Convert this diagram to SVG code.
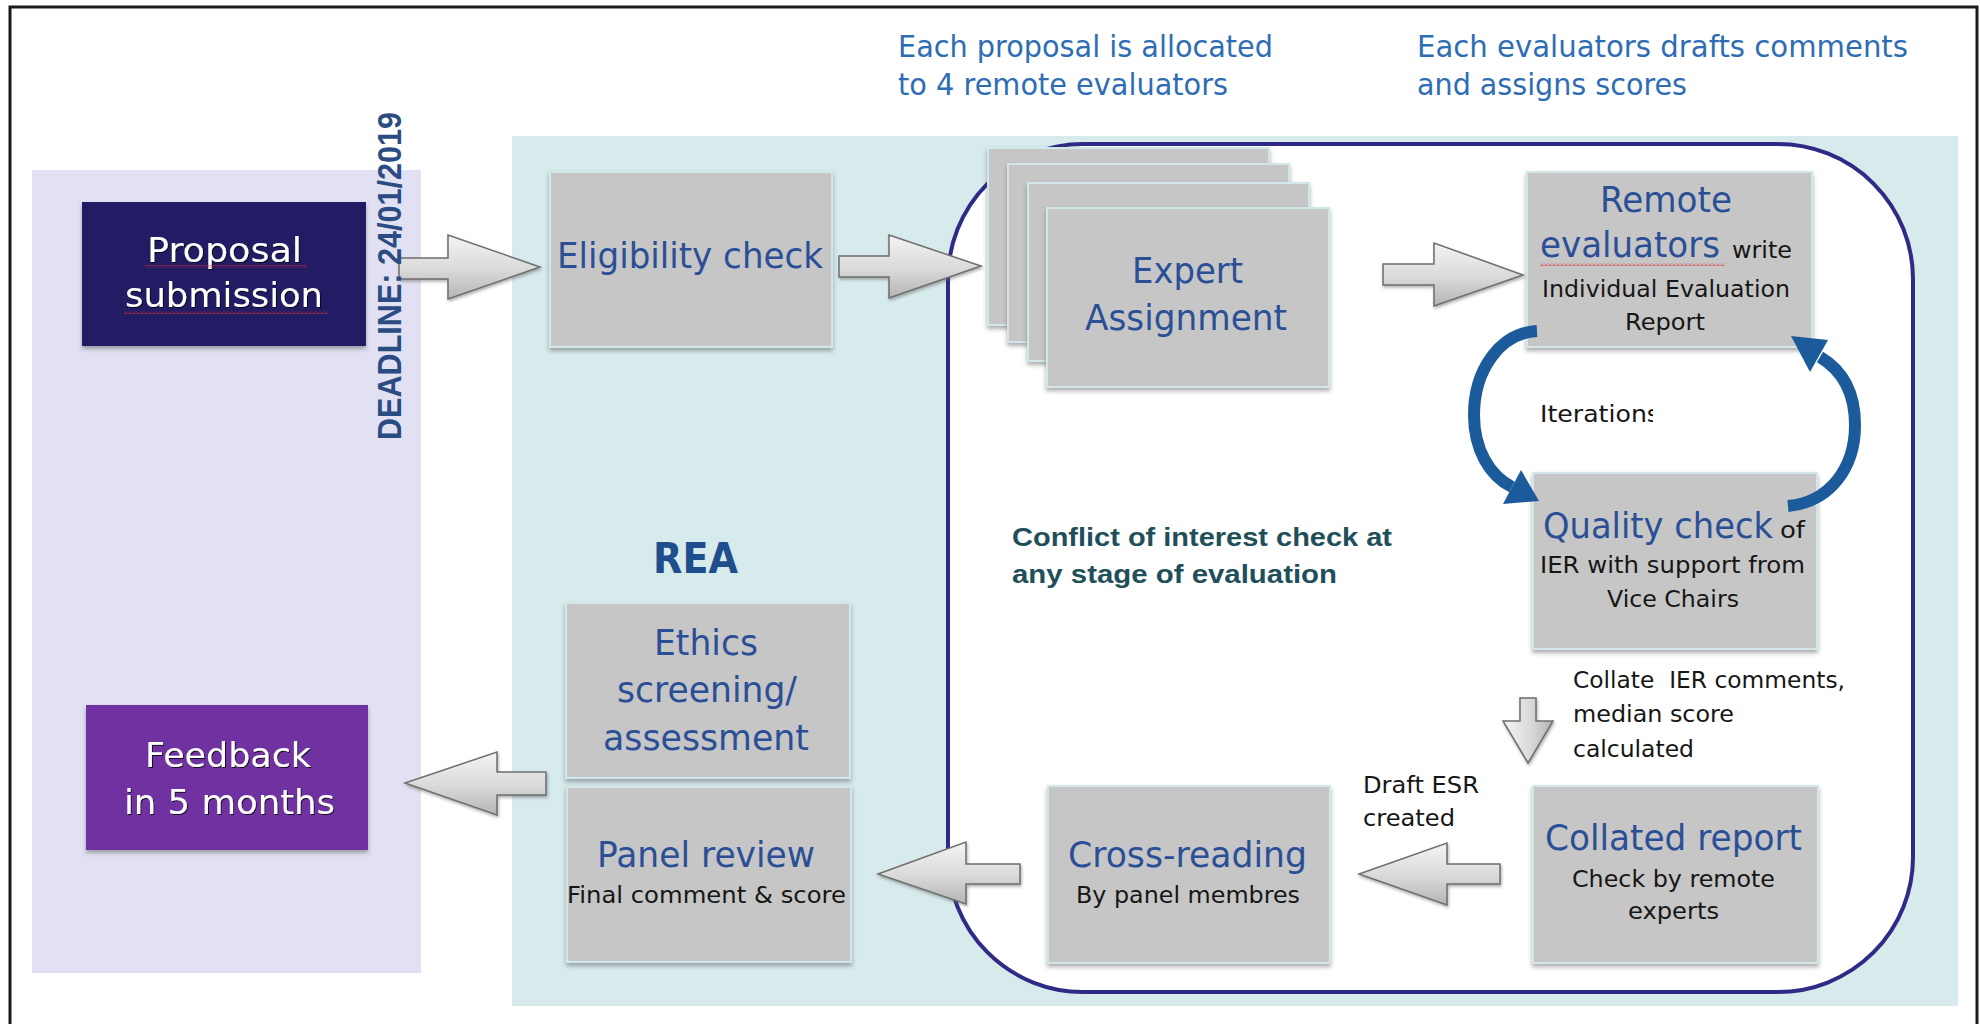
<svg xmlns="http://www.w3.org/2000/svg" width="1980" height="1024" viewBox="0 0 1980 1024">
<defs>
<style>
.t{font-family:"DejaVu Sans","Liberation Sans",sans-serif}
.title{font-size:35px;fill:#2B4F97}
.small{font-size:23px;fill:#161616}
.top{font-size:30px;fill:#2E6DB4}
.white{font-size:34px;fill:#ffffff;filter:url(#tsh)}
.box{fill:#C6C6C6;stroke:#D2E7EA;stroke-width:2;filter:url(#sh)}
.arrow{fill:url(#ag);stroke:#6E6E6E;stroke-width:1.5;stroke-linejoin:miter;filter:url(#ash)}
.curve{fill:none;stroke:#1B5B9C;stroke-width:12}
.curvehead{fill:#1B5B9C}
</style>
<linearGradient id="ag" x1="0" y1="0" x2="0" y2="1">
<stop offset="0" stop-color="#F4F4F4"/>
<stop offset="0.55" stop-color="#D9D9D9"/>
<stop offset="1" stop-color="#B4B4B4"/>
</linearGradient>
<linearGradient id="agv" x1="0" y1="0" x2="1" y2="0">
<stop offset="0" stop-color="#F4F4F4"/>
<stop offset="0.55" stop-color="#D9D9D9"/>
<stop offset="1" stop-color="#B4B4B4"/>
</linearGradient>
<filter id="sh" x="-5%" y="-5%" width="110%" height="115%">
<feDropShadow dx="0" dy="3" stdDeviation="2" flood-color="#4A4A4A" flood-opacity="0.45"/>
</filter>
<filter id="ash" x="-10%" y="-10%" width="120%" height="130%">
<feDropShadow dx="1" dy="2" stdDeviation="1.5" flood-color="#555" flood-opacity="0.45"/>
</filter>
<filter id="tsh" x="-5%" y="-10%" width="110%" height="130%">
<feDropShadow dx="1" dy="1" stdDeviation="0.6" flood-color="#000" flood-opacity="0.8"/>
</filter>
<pattern id="squig" width="4" height="3" patternUnits="userSpaceOnUse">
<path d="M0,2.5 L2,0.5 L4,2.5" fill="none" stroke="#E0282C" stroke-width="0.9"/>
</pattern>
<clipPath id="itclip"><rect x="1530" y="395" width="123" height="40"/></clipPath>
</defs>

<rect x="0" y="0" width="1980" height="1024" fill="#ffffff"/>
<rect x="10" y="7" width="1967" height="1040" fill="none" stroke="#1A1A1A" stroke-width="3"/>

<g id="backgrounds">
<rect x="32" y="170" width="389" height="803" fill="#E1E1F3"/>
<rect x="512" y="136" width="1446" height="870" fill="#D7EAEC"/>
<rect x="948" y="144" width="965" height="848" rx="135" ry="135" fill="#ffffff" stroke="#2E2A85" stroke-width="4"/>
</g>

<g id="captions">
<text class="t top" x="898" y="57" textLength="375" lengthAdjust="spacingAndGlyphs">Each proposal is allocated</text>
<text class="t top" x="898" y="95" textLength="330" lengthAdjust="spacingAndGlyphs">to 4 remote evaluators</text>
<text class="t top" x="1417" y="57" textLength="491" lengthAdjust="spacingAndGlyphs">Each evaluators drafts comments</text>
<text class="t top" x="1417" y="95" textLength="270" lengthAdjust="spacingAndGlyphs">and assigns scores</text>
<text x="653" y="573" font-family="DejaVu Sans, sans-serif" font-weight="bold" font-size="42" fill="#1F4E8C" textLength="85" lengthAdjust="spacingAndGlyphs">REA</text>
<text x="1012" y="546" font-family="Liberation Sans, Arial, sans-serif" font-weight="bold" font-size="26" fill="#1F4F5A" textLength="380" lengthAdjust="spacingAndGlyphs">Conflict of interest check at</text>
<text x="1012" y="583" font-family="Liberation Sans, Arial, sans-serif" font-weight="bold" font-size="26" fill="#1F4F5A" textLength="325" lengthAdjust="spacingAndGlyphs">any stage of evaluation</text>
<text class="t small" x="1540" y="422" clip-path="url(#itclip)" textLength="120" lengthAdjust="spacingAndGlyphs">Iterations</text>
<text class="t small" x="1573" y="688" textLength="272" lengthAdjust="spacingAndGlyphs">Collate&#160; IER comments,</text>
<text class="t small" x="1573" y="722" textLength="161" lengthAdjust="spacingAndGlyphs">median score</text>
<text class="t small" x="1573" y="757" textLength="121" lengthAdjust="spacingAndGlyphs">calculated</text>
<text class="t small" x="1363" y="793" textLength="116" lengthAdjust="spacingAndGlyphs">Draft ESR</text>
<text class="t small" x="1363" y="826" textLength="92" lengthAdjust="spacingAndGlyphs">created</text>
</g>

<g id="node-proposal">
<rect x="82" y="202" width="284" height="144" fill="#221F65" filter="url(#sh)"/>
<text class="t white" x="147" y="262" textLength="155" lengthAdjust="spacingAndGlyphs">Proposal</text>
<text class="t white" x="125" y="307" textLength="198" lengthAdjust="spacingAndGlyphs">submission</text>
<rect x="145" y="265" width="162" height="3" fill="url(#squig)"/>
<rect x="124" y="311" width="204" height="3" fill="url(#squig)"/>
</g>

<g id="node-eligibility">
<rect class="box" x="550" y="172" width="282" height="175"/>
<text class="t title" x="557" y="268" textLength="266" lengthAdjust="spacingAndGlyphs">Eligibility check</text>
</g>

<g id="node-expert">
<rect class="box" x="988" y="148" width="281" height="177"/>
<rect class="box" x="1008" y="164" width="281" height="178"/>
<rect class="box" x="1028" y="183" width="281" height="178"/>
<rect class="box" x="1047" y="208" width="282" height="179"/>
<text class="t title" x="1132" y="283" textLength="111" lengthAdjust="spacingAndGlyphs">Expert</text>
<text class="t title" x="1085" y="330" textLength="202" lengthAdjust="spacingAndGlyphs">Assignment</text>
</g>

<g id="node-remote">
<rect class="box" x="1527" y="172" width="285" height="175"/>
<text class="t title" x="1600" y="212" textLength="132" lengthAdjust="spacingAndGlyphs">Remote</text>
<text class="t title" x="1540" y="257" textLength="180" lengthAdjust="spacingAndGlyphs">evaluators</text>
<text class="t small" x="1732" y="258" textLength="60" lengthAdjust="spacingAndGlyphs">write</text>
<rect x="1540" y="263" width="185" height="3" fill="url(#squig)"/>
<text class="t small" x="1542" y="297" textLength="248" lengthAdjust="spacingAndGlyphs">Individual Evaluation</text>
<text class="t small" x="1625" y="330" textLength="80" lengthAdjust="spacingAndGlyphs">Report</text>
</g>

<g id="node-quality">
<rect class="box" x="1533" y="473" width="284" height="176"/>
<text class="t title" x="1543" y="538" textLength="230" lengthAdjust="spacingAndGlyphs">Quality check</text>
<text class="t small" x="1780" y="538" textLength="25" lengthAdjust="spacingAndGlyphs">of</text>
<text class="t small" x="1540" y="573" textLength="265" lengthAdjust="spacingAndGlyphs">IER with support from</text>
<text class="t small" x="1607" y="607" textLength="132" lengthAdjust="spacingAndGlyphs">Vice Chairs</text>
</g>

<g id="node-collated">
<rect class="box" x="1533" y="786" width="285" height="177"/>
<text class="t title" x="1545" y="850" textLength="257" lengthAdjust="spacingAndGlyphs">Collated report</text>
<text class="t small" x="1572" y="887" textLength="203" lengthAdjust="spacingAndGlyphs">Check by remote</text>
<text class="t small" x="1628" y="919" textLength="91" lengthAdjust="spacingAndGlyphs">experts</text>
</g>

<g id="node-cross">
<rect class="box" x="1048" y="786" width="282" height="177"/>
<text class="t title" x="1068" y="867" textLength="239" lengthAdjust="spacingAndGlyphs">Cross-reading</text>
<text class="t small" x="1076" y="903" textLength="224" lengthAdjust="spacingAndGlyphs">By panel membres</text>
</g>

<g id="node-ethics">
<rect class="box" x="566" y="603" width="284" height="175"/>
<text class="t title" x="654" y="655" textLength="104" lengthAdjust="spacingAndGlyphs">Ethics</text>
<text class="t title" x="617" y="702" textLength="180" lengthAdjust="spacingAndGlyphs">screening/</text>
<text class="t title" x="603" y="750" textLength="206" lengthAdjust="spacingAndGlyphs">assessment</text>
</g>

<g id="node-panel">
<rect class="box" x="567" y="787" width="284" height="175"/>
<text class="t title" x="597" y="867" textLength="218" lengthAdjust="spacingAndGlyphs">Panel review</text>
<text class="t small" x="567" y="903" textLength="279" lengthAdjust="spacingAndGlyphs">Final comment &amp; score</text>
</g>

<g id="node-feedback">
<rect x="86" y="705" width="282" height="145" fill="#7030A0" filter="url(#sh)"/>
<text class="t white" x="145" y="767" textLength="166" lengthAdjust="spacingAndGlyphs">Feedback</text>
<text class="t white" x="124" y="814" textLength="211" lengthAdjust="spacingAndGlyphs">in 5 months</text>
</g>

<g id="connectors">
<polygon class="arrow" points="399,258 448,258 448,235 540,267 448,299 448,279 399,279"/>
<polygon class="arrow" points="839,256 889,256 889,235 981,266 889,298 889,277 839,277"/>
<polygon class="arrow" points="1383,264 1434,264 1434,243 1523,275 1434,306 1434,285 1383,285"/>
<polygon class="arrow" style="fill:url(#agv)" points="1520,698 1536,698 1536,721 1553,721 1528,763 1503,721 1520,721"/>
<polygon class="arrow" points="1500,864 1447,864 1447,843 1359,874 1447,905 1447,884 1500,884"/>
<polygon class="arrow" points="1020,864 966,864 966,842 878,874 966,904 966,884 1020,884"/>
<polygon class="arrow" points="546,772 497,772 497,752 405,783 497,815 497,795 546,795"/>
<path class="curve" d="M1537,331 C1500,333 1474,370 1474,415 C1474,450 1490,476 1512,487"/>
<polygon class="curvehead" points="1503,504 1521,470 1539,501"/>
<path class="curve" d="M1788,506 C1830,502 1855,468 1855,425 C1855,392 1842,370 1820,357"/>
<polygon class="curvehead" points="1828,340 1810,372 1791,336"/>
</g>

<g id="deadline">
<text transform="translate(401,440) rotate(-90)" x="0" y="0" font-family="Liberation Sans, Arial, sans-serif" font-weight="bold" font-size="33" fill="#2B4C82" textLength="328" lengthAdjust="spacingAndGlyphs">DEADLINE: 24/01/2019</text>
</g>
</svg>
